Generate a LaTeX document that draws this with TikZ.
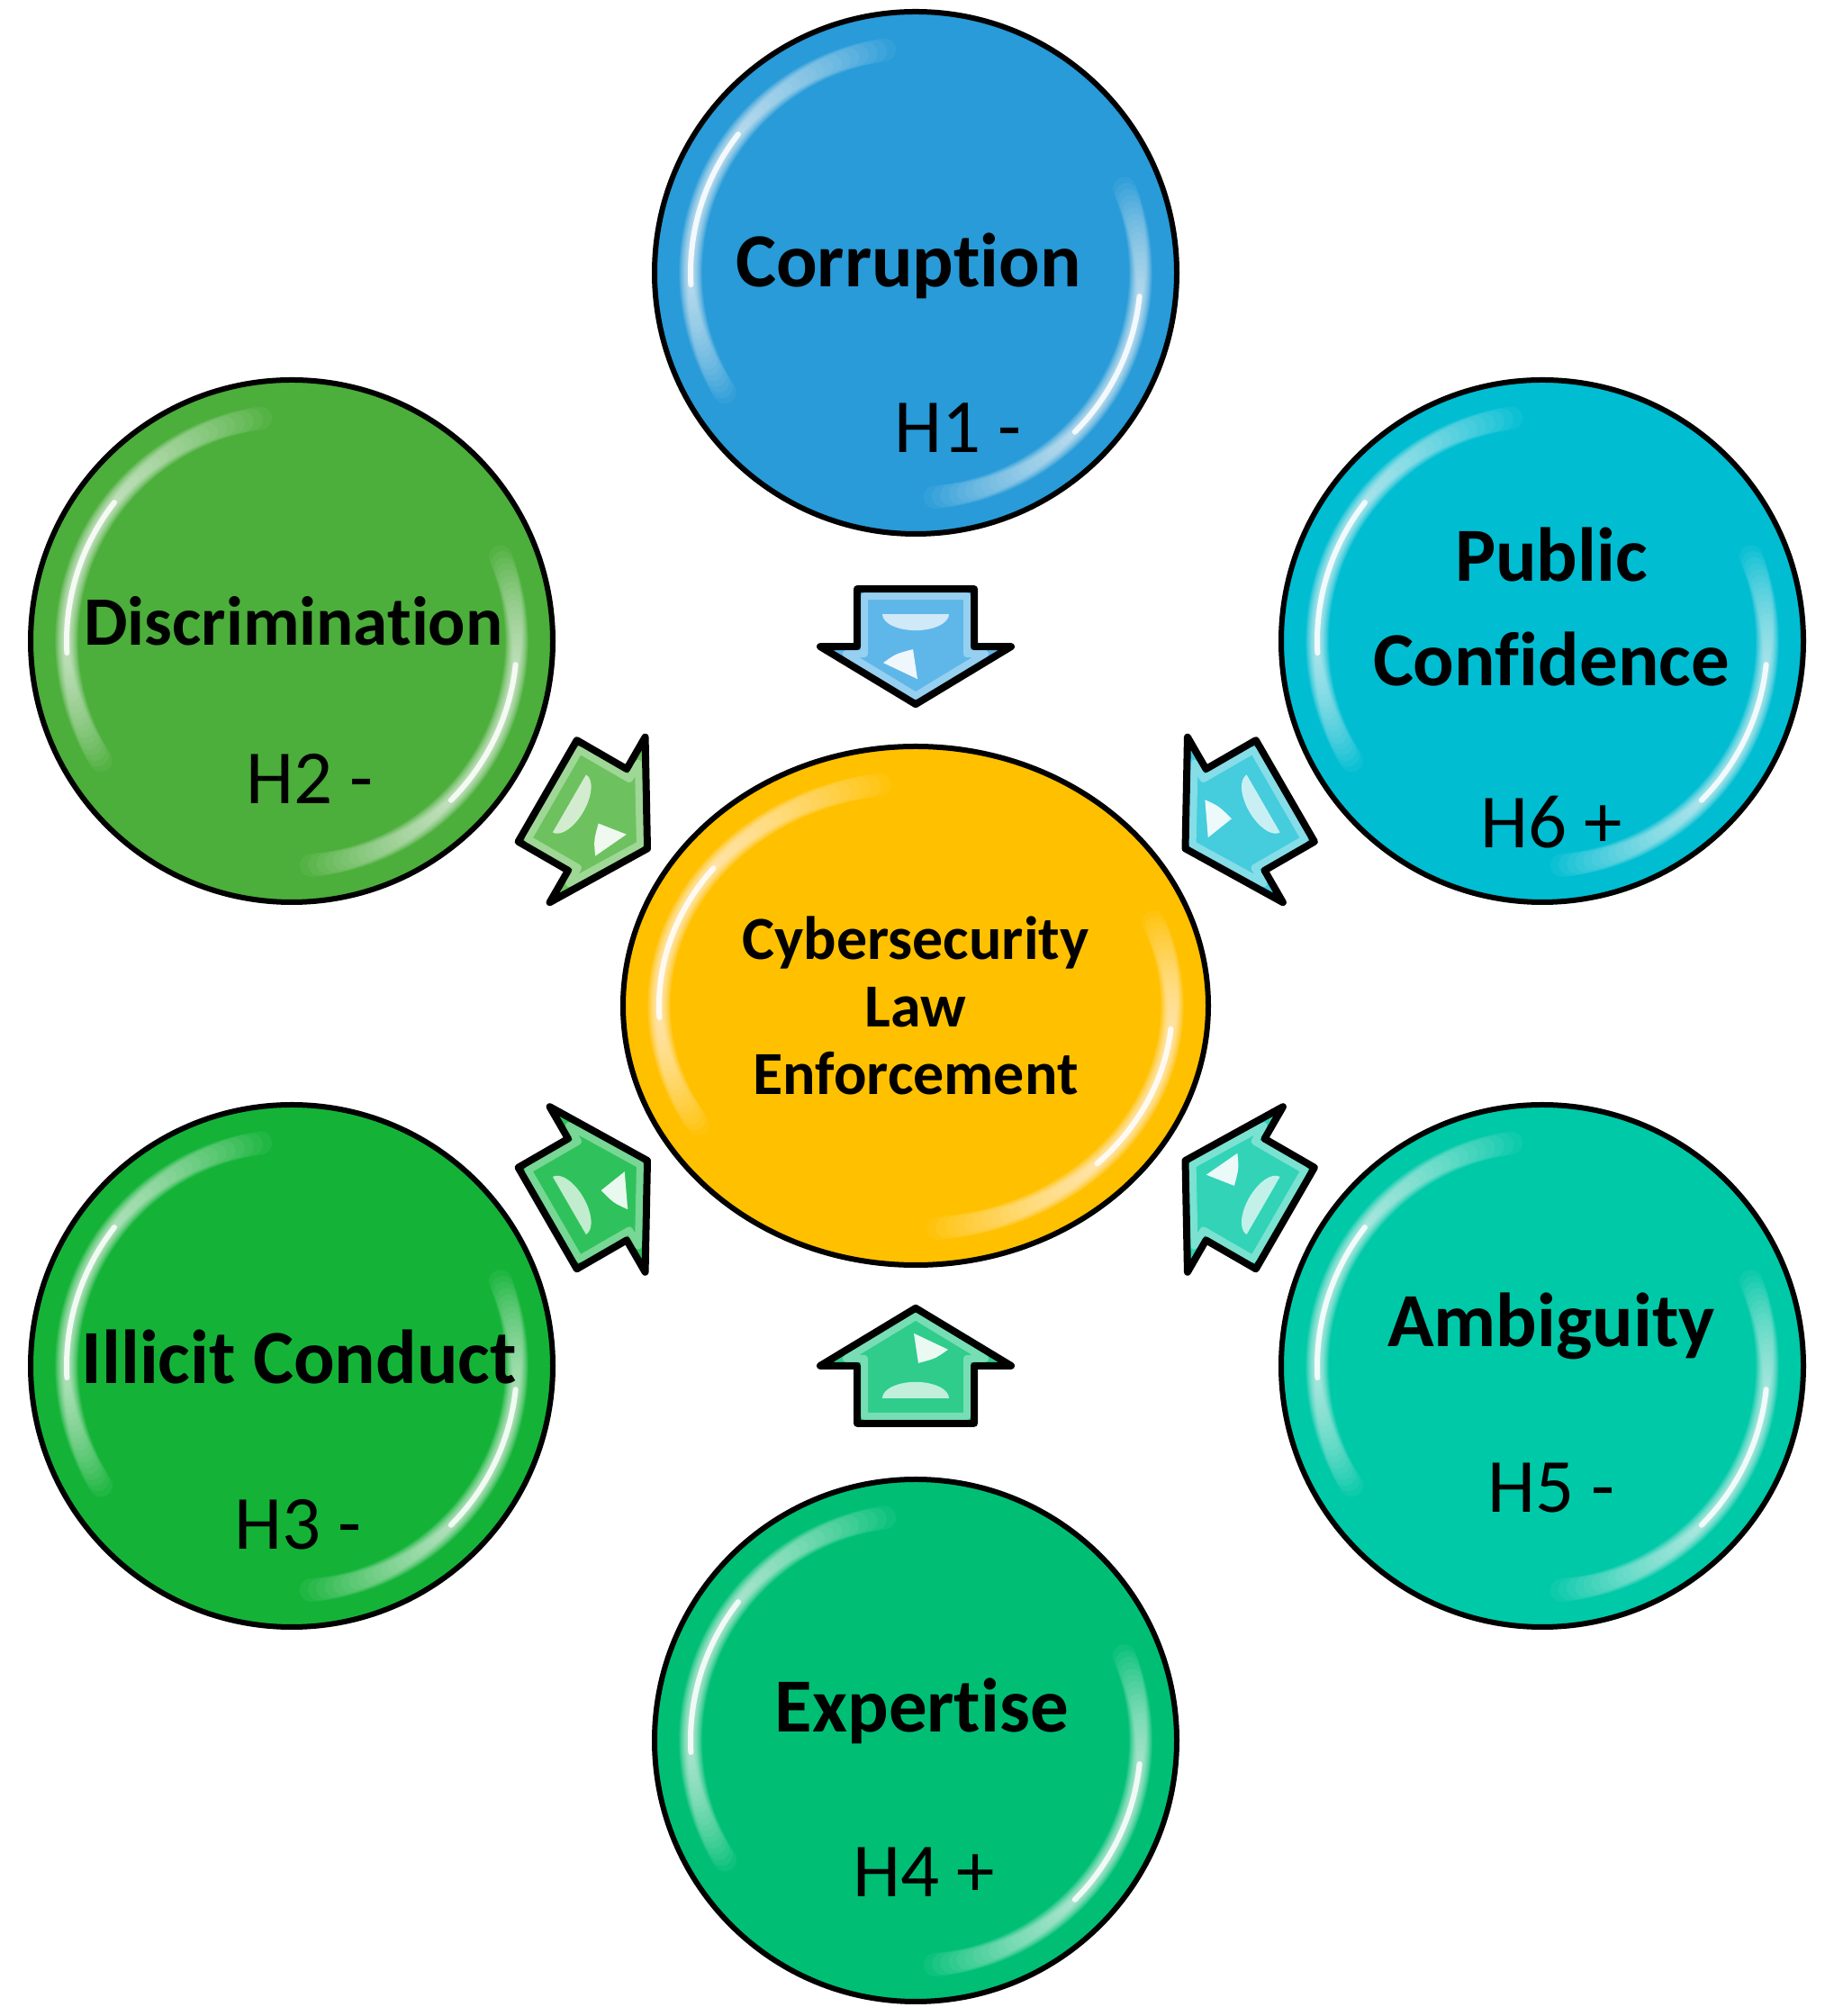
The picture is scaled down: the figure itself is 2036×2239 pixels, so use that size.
\documentclass[tikz,border=0pt]{standalone}
\usepackage{fontspec}
\setmainfont{Carlito}[Ligatures=NoCommon]
\usetikzlibrary{calc,shapes.geometric}
\definecolor{cCorr}{HTML}{289BD8}
\definecolor{cDisc}{HTML}{4CAE3B}
\definecolor{cPub}{HTML}{00BDD2}
\definecolor{cIll}{HTML}{14B338}
\definecolor{cAmb}{HTML}{00C9A8}
\definecolor{cExp}{HTML}{00BF75}
\definecolor{cCen}{HTML}{FFC000}
\definecolor{aCorr}{HTML}{5FB7E9}
\definecolor{aDisc}{HTML}{6DC25F}
\definecolor{aPub}{HTML}{45CCDD}
\definecolor{aIll}{HTML}{2FC25C}
\definecolor{aAmb}{HTML}{33D3B8}
\definecolor{aExp}{HTML}{2FCC8C}
\newcommand{\glossy}[3]{%
  \foreach \k in {0,...,19}{%
    \pgfmathsetmacro{\sa}{98+2.25*\k}
    \pgfmathsetmacro{\ea}{212-1.5*\k}
    \pgfmathsetmacro{\lw}{13-0.55*\k}
    \draw[white, line width=\lw pt, opacity=0.055, line cap=round] ($(#1)+(\sa:#2 and #3)$) arc[start angle=\sa, end angle=\ea, x radius=#2, y radius=#3];
    \pgfmathsetmacro{\sb}{-85+2*\k}
    \pgfmathsetmacro{\eb}{22-1.5*\k}
    \draw[white, line width=\lw pt, opacity=0.055, line cap=round] ($(#1)+(\sb:#2 and #3)$) arc[start angle=\sb, end angle=\eb, x radius=#2, y radius=#3];
  }
  \draw[white, line width=3pt, opacity=0.85, line cap=round] ($(#1)+(142:#2 and #3)$) arc[start angle=142, end angle=183, x radius=#2, y radius=#3];
  \draw[white, line width=3pt, opacity=0.85, line cap=round] ($(#1)+(-45:#2 and #3)$) arc[start angle=-45, end angle=-6, x radius=#2, y radius=#3];
}
\newcommand{\blockarrow}[3]{%
  \begin{scope}[shift={(#1)}, rotate=#2]
    \draw[arrowline, fill=#3] (-64,-65) -- (0,-65) -- (0,-106) -- (64,0) -- (0,106) -- (0,65) -- (-64,65) -- cycle;
    \draw[white, opacity=.35, line width=4pt, line join=round] (-56,-57) -- (8,-57) -- (8,-77) -- (54.7,0) -- (8,77) -- (8,57) -- (-56,57) -- cycle;
    \fill[white, opacity=.7] (-36,37) arc[start angle=90, end angle=-90, x radius=18, y radius=37] -- cycle;
    \fill[white, opacity=.9] (18,-36) .. controls (8,-22) .. (3,-3) -- (36,2) -- cycle;
  \end{scope}}
\begin{document}
\begin{tikzpicture}[x=0.5pt, y=0.5pt,
  bubble/.style={circle, draw=black, line width=3pt, minimum size=290pt, inner sep=0pt},
  hub/.style={ellipse, draw=black, line width=3pt, minimum width=325pt, minimum height=288pt, inner sep=0pt},
  title/.style={font=\fontsize{42.5}{51}\selectfont\bfseries, inner sep=0pt},
  titlesm/.style={font=\fontsize{38.5}{46}\selectfont\bfseries, inner sep=0pt},
  hlab/.style={font=\fontsize{42.5}{51}\selectfont, inner sep=0pt},
  hubtext/.style={font=\fontsize{34}{37.5}\selectfont\bfseries, align=center, inner sep=0pt},
  arrowline/.style={draw=black, line width=4pt, line join=round}]
\fill[white] (0,0) rectangle (2036,2239);
\useasboundingbox (0,0) rectangle (2036,2239);

% circles
\node[hub, fill=cCen] (cen) at (1017,1122) {};
\node[bubble, fill=cCorr] (c1) at (1017,1936) {};
\node[bubble, fill=cDisc] (c2) at (324,1527) {};
\node[bubble, fill=cIll] (c3) at (324,722) {};
\node[bubble, fill=cExp] (c4) at (1017,306) {};
\node[bubble, fill=cAmb] (c5) at (1713,722) {};
\node[bubble, fill=cPub] (c6) at (1713,1527) {};

% gloss
\glossy{cen}{285}{248}
\glossy{c1}{250}{250}
\glossy{c2}{250}{250}
\glossy{c3}{250}{250}
\glossy{c4}{250}{250}
\glossy{c5}{250}{250}
\glossy{c6}{250}{250}

% texts
\node[hubtext] (tcen) at (cen) {Cybersecurity\\Law\\Enforcement};
\node[title] (t1) at ($(c1)+(-8,8)$) {Corruption};
\node[hlab] (h1) at ($(c1)+(47,-172)$) {H1 -};
\node[titlesm] (t2) at ($(c2)+(2,22)$) {Discrimination};
\node[hlab] (h2) at ($(c2)+(20,-153)$) {H2 -};
\node[title] (t3) at ($(c3)+(8,10)$) {Illicit Conduct};
\node[hlab] (h3) at ($(c3)+(7,-176)$) {H3 -};
\node[title] (t4) at ($(c4)+(7,33)$) {Expertise};
\node[hlab] (h4) at ($(c4)+(9,-146)$) {H4 +};
\node[title] (t5) at ($(c5)+(10,44)$) {Ambiguity};
\node[hlab] (h5) at ($(c5)+(10,-136)$) {H5 -};
\node[title] (t6a) at ($(c6)+(10,96)$) {Public};
\node[title] (t6b) at ($(c6)+(10,-20)$) {Confidence};
\node[hlab] (h6) at ($(c6)+(10,-201)$) {H6 +};

% arrows
\coordinate (a1) at ($(cen)!0.49!(c1)$);
\coordinate (a2) at ($(cen)!0.51!(c2)$);
\coordinate (a3) at ($(cen)!0.51!(c3)$);
\coordinate (a4) at ($(cen)!0.49!(c4)$);
\coordinate (a5) at ($(cen)!0.51!(c5)$);
\coordinate (a6) at ($(cen)!0.51!(c6)$);
\blockarrow{a1}{-90}{aCorr}
\blockarrow{a2}{-30}{aDisc}
\blockarrow{a3}{30}{aIll}
\blockarrow{a4}{90}{aExp}
\blockarrow{a5}{150}{aAmb}
\blockarrow{a6}{210}{aPub}
\end{tikzpicture}
\end{document}
